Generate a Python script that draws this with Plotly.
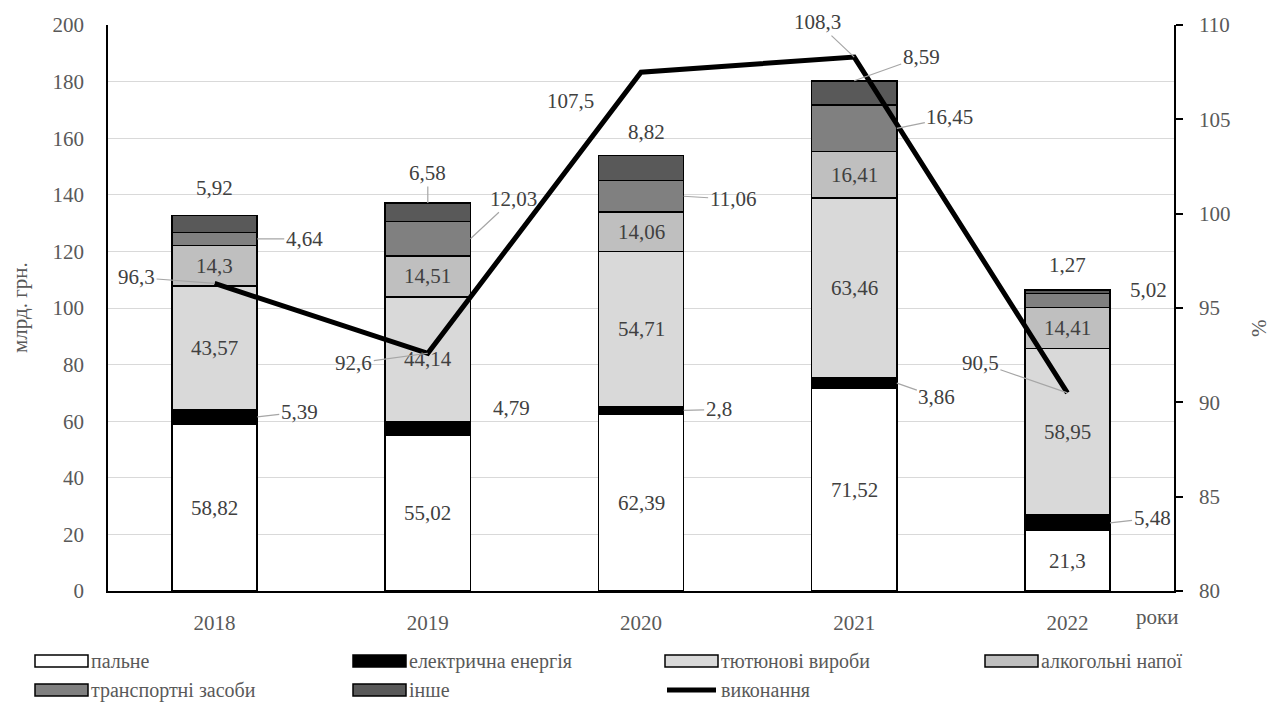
import plotly.graph_objects as go

# ---- data -------------------------------------------------------------
years = ["2018", "2019", "2020", "2021", "2022"]
fuel = [58.82, 55.02, 62.39, 71.52, 21.3]
electricity = [5.39, 4.79, 2.8, 3.86, 5.48]
tobacco = [43.57, 44.14, 54.71, 63.46, 58.95]
alcohol = [14.3, 14.51, 14.06, 16.41, 14.41]
vehicles = [4.64, 12.03, 11.06, 16.45, 5.02]
other = [5.92, 6.58, 8.82, 8.59, 1.27]
execution = [96.3, 92.6, 107.5, 108.3, 90.5]

series_names = ["пальне", "електрична енергія", "тютюнові вироби",
                "алкогольні напої", "транспортні засоби", "інше"]
line_name = "виконання"
series_values = [fuel, electricity, tobacco, alcohol, vehicles, other]

# ---- styling ----------------------------------------------------------
FONT = "Liberation Serif"
TICK_COLOR = "#595959"
LABEL_COLOR = "#404040"
LEADER_COLOR = "#a6a6a6"
fills = ["#ffffff", "#000000", "#d9d9d9", "#bfbfbf", "#808080", "#595959"]
BAR_W = 0.4
HALF = BAR_W / 2

# plot area in pixels
L, R, T, B = 108, 96, 25, 115
W, H = 1270, 706
PW, PH = W - L - R, H - T - B


def px_x(px):
    return (px - L) / PW


def px_y(py):
    return (T + PH - py) / PH


def fmt(v):
    return f"{v:g}".replace(".", ",")


# label placement per series: (mode, dx, dy, leader) for each year
# mode: "in" = centred in segment, "side" = right edge of segment,
#       "top" = above bar
IN = ("in", 0, 0, False)
placement = [
    [IN] * 5,
    [("side", 42, -5, True), ("side", 41, -21, False), ("side", 35, -1, True),
     ("side", 40, 14, True), ("side", 42, -5, True)],
    [IN] * 5,
    [IN] * 5,
    [("side", 47, 0, True), ("side", 43, -40, True), ("side", 49, 3, True),
     ("side", 53, -11, True), ("side", 38, -11, False)],
    [("top", 0, -28, False), ("top", 0, -30, True), ("top", 5, -24, False),
     ("top", 67, -24, True), ("top", 0, -25, False)],
]
line_placement = [(-78, -6, True), (-74, 10, True), (-71, 29, False),
                  (-37, -35, True), (-87, -30, True)]

xs = list(range(len(years)))

fig = go.Figure()

for name, vals, col in zip(series_names, series_values, fills):
    fig.add_trace(go.Bar(
        x=xs, y=vals, name=name, width=BAR_W,
        marker=dict(color=col, line=dict(color="#000000", width=1.5)),
        showlegend=False,
    ))

fig.add_trace(go.Scatter(
    x=xs, y=execution, name=line_name, mode="lines", yaxis="y2",
    line=dict(color="#000000", width=5), showlegend=False,
))

annotations = []
label_font = dict(family=FONT, size=21, color=LABEL_COLOR)

# segment labels
bottoms = [0.0] * len(years)
for s, vals in enumerate(series_values):
    for i, v in enumerate(vals):
        lo = bottoms[i]
        hi = lo + v
        mode, dx, dy, leader = placement[s][i]
        if mode == "in":
            ax_, ay_ = i, (lo + hi) / 2
        elif mode == "side":
            ax_, ay_ = i + HALF, (lo + hi) / 2
        else:
            ax_, ay_ = i, hi
        common = dict(x=ax_, y=ay_, xref="x", yref="y", text=fmt(v),
                      font=label_font, xanchor="center", yanchor="middle")
        if mode == "in":
            annotations.append(dict(common, showarrow=False))
        elif leader:
            annotations.append(dict(common, showarrow=True, arrowhead=0,
                                    arrowwidth=1.2, arrowcolor=LEADER_COLOR,
                                    ax=dx, ay=dy, standoff=0))
        else:
            annotations.append(dict(common, showarrow=False,
                                    xshift=dx, yshift=-dy))
        bottoms[i] = hi

# line labels
for i, v in enumerate(execution):
    dx, dy, leader = line_placement[i]
    common = dict(x=i, y=v, xref="x", yref="y2", text=fmt(v),
                  font=label_font, xanchor="center", yanchor="middle")
    if leader:
        annotations.append(dict(common, showarrow=True, arrowhead=0,
                                arrowwidth=1.2, arrowcolor=LEADER_COLOR,
                                ax=dx, ay=dy, standoff=0))
    else:
        annotations.append(dict(common, showarrow=False,
                                xshift=dx, yshift=-dy))

title_font = dict(family=FONT, size=21, color=TICK_COLOR)
annotations += [
    dict(x=px_x(20), y=px_y(308), xref="paper", yref="paper",
         xanchor="center", yanchor="middle",
         text="млрд. грн.", textangle=-90, showarrow=False, font=title_font),
    dict(x=px_x(1259), y=px_y(328), xref="paper", yref="paper",
         xanchor="center", yanchor="middle",
         text="%", textangle=-90, showarrow=False, font=title_font),
    dict(x=px_x(1157), y=px_y(617), xref="paper", yref="paper",
         xanchor="center", yanchor="middle",
         text="роки", showarrow=False, font=title_font),
]

# legend drawn as shapes and text below the plot
shapes = []
legend_font = dict(family=FONT, size=20, color=TICK_COLOR)
col_x = [35, 353, 665, 985]
row_y = [661, 690]
items = [(n, c, "bar") for n, c in zip(series_names, fills)] + \
        [(line_name, "#000000", "line")]
for k, (name, col, kind) in enumerate(items):
    cx = col_x[k % 4]
    cy = row_y[k // 4]
    if kind == "bar":
        shapes.append(dict(type="rect", xref="paper", yref="paper",
                           x0=px_x(cx), x1=px_x(cx + 53),
                           y0=px_y(cy + 6), y1=px_y(cy - 6),
                           fillcolor=col,
                           line=dict(color="#000000", width=1.5)))
    else:
        shapes.append(dict(type="line", xref="paper", yref="paper",
                           x0=px_x(cx + 2), x1=px_x(cx + 51),
                           y0=px_y(cy), y1=px_y(cy),
                           line=dict(color="#000000", width=5)))
    annotations.append(dict(x=px_x(cx + 54), y=px_y(cy), xref="paper",
                            yref="paper", xanchor="left", yanchor="middle",
                            text=name, showarrow=False, font=legend_font))

tick_font = dict(family=FONT, size=21, color=TICK_COLOR)
fig.update_layout(
    width=W, height=H,
    margin=dict(l=L, r=R, t=T, b=B),
    barmode="stack",
    paper_bgcolor="#ffffff", plot_bgcolor="#ffffff",
    font=dict(family=FONT),
    showlegend=False,
    xaxis=dict(range=[-0.5, len(years) - 0.5], tickvals=xs, ticktext=years,
               showline=True, linecolor="#000000", linewidth=1.5,
               ticks="", showgrid=False, zeroline=False,
               tickfont=tick_font, ticklabelstandoff=12),
    yaxis=dict(range=[0, 200], dtick=20, showgrid=True,
               gridcolor="#d9d9d9", gridwidth=1.3,
               showline=True, linecolor="#000000", linewidth=1.5,
               ticks="", zeroline=False, tickfont=tick_font,
               ticklabelstandoff=18),
    yaxis2=dict(range=[80, 110], dtick=5, overlaying="y", side="right",
                showgrid=False, zeroline=False,
                showline=True, linecolor="#000000", linewidth=1.5,
                ticks="outside", ticklen=7, tickwidth=1.5,
                tickcolor="#000000", tickfont=tick_font,
                ticklabelstandoff=12),
    annotations=annotations,
    shapes=shapes,
)

fig.write_html("out.html")
